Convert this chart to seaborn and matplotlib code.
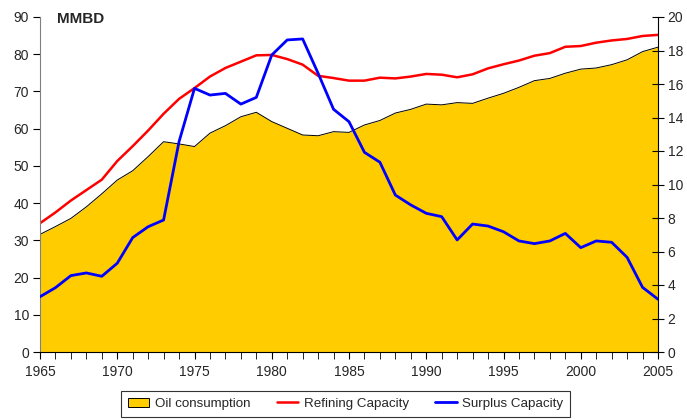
import matplotlib.pyplot as plt
import matplotlib as mpl
import seaborn as sns
import pandas as pd
from matplotlib.patches import Patch
from matplotlib.lines import Line2D
from matplotlib.ticker import MultipleLocator

years = list(range(1965, 2006))

# oil consumption (left axis, MMBD)
oil_consumption = [31.6, 33.7, 35.9, 39.0, 42.5, 46.2, 48.7, 52.5, 56.5, 55.9,
                   55.2, 58.8, 60.8, 63.2, 64.4, 61.9, 60.1, 58.3, 58.1, 59.2,
                   59.0, 61.0, 62.2, 64.2, 65.2, 66.6, 66.4, 67.0, 66.8, 68.2,
                   69.5, 71.1, 72.9, 73.5, 74.9, 76.0, 76.3, 77.2, 78.5, 80.7,
                   81.9]

# refining capacity (left axis)
refining_capacity = [34.6, 37.5, 40.7, 43.5, 46.3, 51.3, 55.3, 59.5, 64.0, 68.0,
                     70.9, 74.0, 76.3, 78.0, 79.7, 79.8, 78.7, 77.2, 74.2, 73.6,
                     72.9, 72.9, 73.7, 73.5, 74.0, 74.7, 74.5, 73.8, 74.6, 76.2,
                     77.3, 78.3, 79.6, 80.3, 82.0, 82.2, 83.1, 83.7, 84.1, 84.9,
                     85.2]

# surplus capacity (right axis)
surplus_capacity = [3.3, 3.84, 4.56, 4.72, 4.52, 5.3, 6.83, 7.48, 7.88, 12.56,
                    15.74, 15.34, 15.44, 14.8, 15.2, 17.73, 18.63, 18.69, 16.64, 14.49,
                    13.75, 11.92, 11.33, 9.37, 8.78, 8.28, 8.08, 6.69, 7.64, 7.52,
                    7.18, 6.63, 6.47, 6.63, 7.08, 6.23, 6.63, 6.55, 5.65, 3.86,
                    3.15]

df = pd.DataFrame({"year": years, "oil": oil_consumption,
                   "refining": refining_capacity, "surplus": surplus_capacity})

sns.set_style("white")
plt.rcParams['font.family'] = ['Liberation Sans', 'DejaVu Sans']

fig = plt.figure(figsize=(6.87, 4.2), dpi=100)
ax = fig.add_axes([40/687, 1-352/420, 618/687, 335/420])

gold = "#FFCC00"
ax.fill_between(df["year"], df["oil"], 0, color=gold, lw=0)
ax.plot(df["year"], df["oil"], color="black", lw=0.7)
sns.lineplot(data=df, x="year", y="refining", ax=ax, color="#FF0000", lw=1.8)

ax2 = ax.twinx()
sns.lineplot(data=df, x="year", y="surplus", ax=ax2, color="#0000FF", lw=2)

ax.set_xlim(1965, 2005)
ax.set_ylim(0, 90)
ax2.set_ylim(0, 20)
ax.set_xticks(range(1965, 2006, 5))
ax.xaxis.set_minor_locator(MultipleLocator(1))
ax.set_yticks(range(0, 91, 10))
ax2.set_yticks(range(0, 21, 2))

for a in (ax, ax2):
    a.set_xlabel("")
    a.set_ylabel("")
    a.spines["top"].set_visible(False)
ax.spines["left"].set_color("#808080")
ax.spines["bottom"].set_color("black")
ax.spines["right"].set_visible(False)
ax2.spines["left"].set_visible(False)
ax2.spines["bottom"].set_visible(False)
ax2.spines["right"].set_color("black")

ax.tick_params(axis="x", which="both", direction="out", bottom=True, length=5,
               color="black", labelsize=10, pad=4)
ax.tick_params(axis="y", direction="out", left=True, length=5, color="black",
               labelsize=10, pad=3)
ax2.tick_params(axis="y", direction="inout", right=True, length=8, color="black",
                labelsize=10, pad=3)
ax.set_zorder(1)
ax.patch.set_visible(False)
ax2.set_zorder(2)

ax.text(0.028, 1.016, "MMBD", transform=ax.transAxes, fontsize=11,
        fontweight="bold", va="top", ha="left")

handles = [Patch(facecolor=gold, edgecolor="black", lw=0.7, label="Oil consumption"),
           Line2D([], [], color="#FF0000", lw=1.8, label="Refining Capacity"),
           Line2D([], [], color="#0000FF", lw=2, label="Surplus Capacity")]
leg = fig.legend(handles=handles, loc="upper center", ncol=3,
                 bbox_to_anchor=(0.503, 1-391/420), fontsize=9.6, frameon=True,
                 fancybox=False, edgecolor="black", handlelength=1.6,
                 handleheight=0.7, handletextpad=0.4, columnspacing=2.0,
                 borderpad=0.5, borderaxespad=0)
leg.get_frame().set_linewidth(0.8)

fig.savefig("out.png", dpi=100)
